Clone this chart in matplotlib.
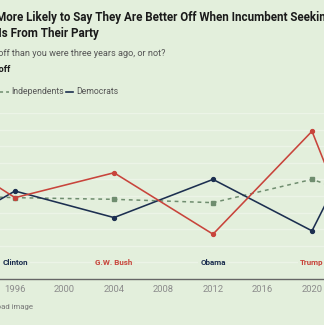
import matplotlib
matplotlib.use("Agg")
import matplotlib.pyplot as plt
from matplotlib.lines import Line2D

plt.rcParams['font.family'] = ['Roboto', 'DejaVu Sans']

# % better off than three years ago, by party
years = [1992, 1996, 2004, 2012, 2020, 2024]
republicans = [68, 49, 64, 27, 89, 14]
independents = [50, 49, 48, 46, 60, 50]
democrats = [36, 53, 37, 60, 29, 88]

incumbents = ['Clinton', 'G.W. Bush', 'Obama', 'Trump']
incumbent_years = [1996, 2004, 2012, 2020]
incumbent_party = ['D', 'R', 'D', 'R']

tick_years = [1996, 2000, 2004, 2008, 2012, 2016, 2020]

BG = '#e3efdc'
RED = '#c8443b'
NAVY = '#1c2f50'
GREEN = '#6f8d6f'
GRID = '#ecf4e7'

W, H = 324, 325
fig = plt.figure(figsize=(W / 100, H / 100), dpi=100, facecolor=BG)


def fx(px):
    return px / W


def fy(py):
    return 1 - py / H


# plot area: 1996 at x=15px, 12.375 px per year, 0% at y=279px, 100% at y=113px
ppy = 12.375
x0 = 1996 - 15 / ppy
x1 = 1996 + (W - 15) / ppy
ax = fig.add_axes([0, fy(279), 1, fy(113) - fy(279)])
ax.set_facecolor(BG)
ax.set_xlim(x0, x1)
ax.set_ylim(0, 100)

for v in range(10, 101, 10):
    ax.axhline(v, color=GRID, lw=1.0, zorder=0)

ax.plot(years, independents, color=GREEN, lw=1.1, ls=(0, (2.5, 2.5)),
        marker='s', ms=2.6, zorder=2)
ax.plot(years, democrats, color=NAVY, lw=1.15, marker='o', ms=2.8, zorder=3)
ax.plot(years, republicans, color=RED, lw=1.15, marker='o', ms=2.8, zorder=3)

for name, yr, party in zip(incumbents, incumbent_years, incumbent_party):
    ax.text(yr, 10, name, ha='center', va='center', fontsize=5.8,
            fontweight='bold', color=NAVY if party == 'D' else RED,
            bbox=dict(facecolor=BG, edgecolor='none', pad=1.5), zorder=4)

for s in ['top', 'left', 'right']:
    ax.spines[s].set_visible(False)
ax.spines['bottom'].set_color('#666666')
ax.spines['bottom'].set_linewidth(1.0)
ax.set_yticks([])
ax.set_xticks(tick_years)
ax.set_xticklabels([str(t) for t in tick_years])
ax.tick_params(axis='x', length=0, pad=4, labelsize=6.8, labelcolor='#8c8c8c')

# title and question
fig.text(fx(-4), fy(17), 'More Likely to Say They Are Better Off When Incumbent Seeking Reelection',
         ha='left', va='center', fontsize=8.35, fontweight='bold', color='#1a1a1a')
fig.text(fx(99), fy(33), 'Reelection Is From Their Party',
         ha='right', va='center', fontsize=8.35, fontweight='bold', color='#1a1a1a')
fig.text(fx(165), fy(54), 'Would you say you are better off than you were three years ago, or not?',
         ha='right', va='center', fontsize=6.6, color='#555555')
fig.text(fx(10), fy(69), '% Better off', ha='right', va='center',
         fontsize=6.6, fontweight='bold', color='#1a1a1a')

# legend
fig.add_artist(Line2D([fx(-8), fx(-1)], [fy(92), fy(92)], color=RED, lw=1.2))
fig.add_artist(Line2D([fx(0), fx(9)], [fy(92), fy(92)], color=GREEN, lw=1.1,
                      ls=(0, (2, 2))))
fig.text(fx(11), fy(92), 'Independents', ha='left', va='center',
         fontsize=6.2, color='#555555')
fig.add_artist(Line2D([fx(66), fx(73)], [fy(92), fy(92)], color=NAVY, lw=1.2))
fig.text(fx(76), fy(92), 'Democrats', ha='left', va='center',
         fontsize=6.2, color='#555555')

fig.text(fx(33), fy(307), 'Download image', ha='right', va='center',
         fontsize=5.6, color='#777777')

fig.savefig('out.png', dpi=100, facecolor=BG)
